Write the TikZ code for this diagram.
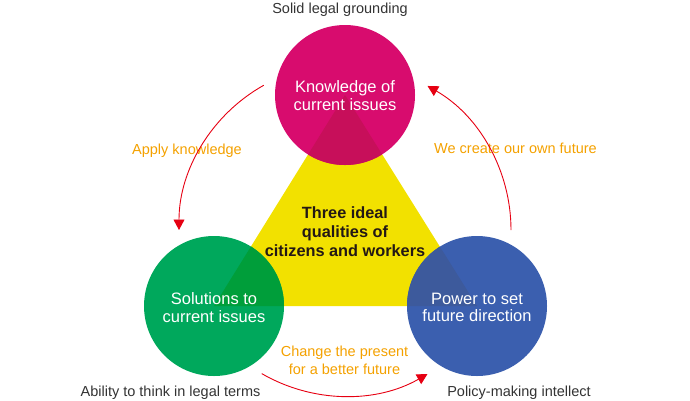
\documentclass[tikz,border=0pt]{standalone}
\usepackage{fontspec}
\setmainfont{Liberation Sans}
\usetikzlibrary{arrows.meta,calc}
\definecolor{cmag}{HTML}{D80C6E}
\definecolor{cmagov}{HTML}{C70F5A}
\definecolor{cgrn}{HTML}{00A85C}
\definecolor{cgrnov}{HTML}{009E3A}
\definecolor{cblu}{HTML}{3B5FAF}
\definecolor{cbluov}{HTML}{3D5A9C}
\definecolor{cyel}{HTML}{F2E100}
\definecolor{corg}{HTML}{F4A100}
\definecolor{cred}{HTML}{E60012}
\definecolor{cdark}{HTML}{231815}
\definecolor{cgray}{HTML}{333333}
\begin{document}
\begin{tikzpicture}[x=1pt,y=-1pt,
  bigcirc/.style={circle,minimum size=140pt,inner sep=0pt,draw=none},
  circtext/.style={text=white,font=\fontsize{16.5}{17.5}\selectfont,align=center},
  centertext/.style={text=cdark,font=\bfseries\fontsize{16.3}{19}\selectfont,align=center},
  outerlab/.style={text=cgray,font=\fontsize{14.5}{17}\selectfont,anchor=base},
  orglab/.style={text=corg,font=\fontsize{14.5}{18}\selectfont,align=center},
  redarrow/.style={draw=cred,line width=0.9pt,-{Triangle[length=10.5pt,width=11pt]}}]
\useasboundingbox (0,0) rectangle (690,400);
\coordinate (K) at (345,95);
\coordinate (S) at (214,306);
\coordinate (P) at (477,306);
\coordinate (C) at (345,230);
% triangle
\fill[cyel] (K) -- (S) -- (P) -- cycle;
% circles
\node[bigcirc,fill=cmag] (kc) at (K) {};
\node[bigcirc,fill=cgrn] (sc) at (S) {};
\node[bigcirc,fill=cblu] (pc) at (P) {};
% overlaps
\begin{scope}
  \clip (K) -- (S) -- (P) -- cycle;
  \fill[cmagov] (K) circle[radius=70];
  \fill[cgrnov] (S) circle[radius=70];
  \fill[cbluov] (P) circle[radius=70];
\end{scope}
% texts
\node[circtext] (kt) at (345,95.5) {Knowledge of\\current issues};
\node[circtext] (st) at (214,307.5) {Solutions to\\current issues};
\node[circtext] (pt) at (477,307.5) {Power to set\\future direction};
\node[centertext] (ct) at (345,232) {Three ideal\\qualities of\\citizens and workers};
\node[outerlab] (l1) at (340,13.3) {Solid legal grounding};
\node[outerlab] (l2) at (170.5,396) {Ability to think in legal terms};
\node[outerlab] (l3) at (519,396) {Policy-making intellect};
\node[orglab,anchor=base] (o1) at (187,154) {Apply knowledge};
\node[orglab,anchor=base] (o2) at (515.5,153) {We create our own future};
\node[orglab] (o3) at (344.5,360.7) {Change the present\\for a better future};
% arrows
\coordinate (a1s) at ($(C)+(240.7:166)$);
\coordinate (a2s) at ($(C)+(0:166)$);
\coordinate (a3s) at ($(C)+(120.1:166)$);
\draw[redarrow] (a1s) arc[start angle=240.7,end angle=180,radius=166];
\draw[redarrow] (a2s) arc[start angle=0,end angle=-60.2,radius=166];
\draw[redarrow] (a3s) arc[start angle=120.1,end angle=60.2,radius=166];
\end{tikzpicture}
\end{document}
